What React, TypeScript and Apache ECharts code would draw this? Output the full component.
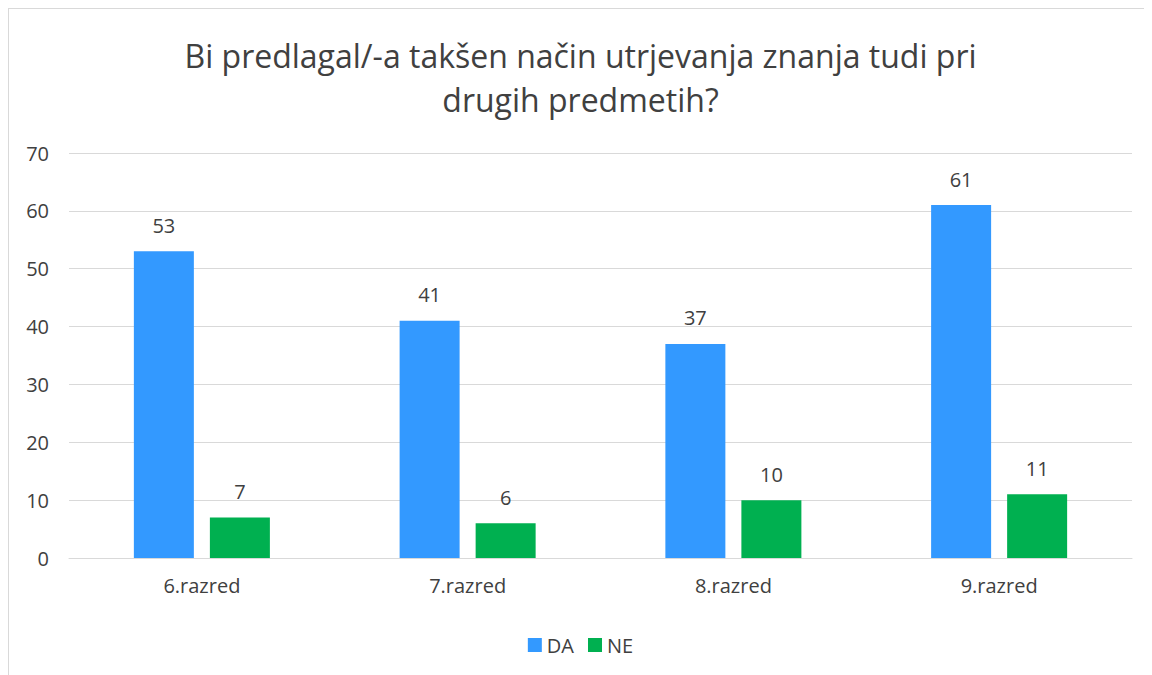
import React, { useEffect, useRef } from "react";
import * as echarts from "echarts";

const titleText = "Bi predlagal/-a takšen način utrjevanja znanja tudi pri\ndrugih predmetih?";
const categories = ["6.razred", "7.razred", "8.razred", "9.razred"];
const daValues = [53, 41, 37, 61];
const neValues = [7, 6, 10, 11];
const seriesNames = ["DA", "NE"];

const FONT = "'Open Sans', sans-serif";

export default function App() {
  const ref = useRef<HTMLDivElement>(null);
  useEffect(() => {
    if (!ref.current) return;
    const chart = echarts.init(ref.current, undefined, { renderer: "svg" });
    const labelStyle = {
      show: true,
      position: "top" as const,
      distance: 16,
      color: "#404040",
      fontSize: 20,
      fontFamily: FONT,
    };
    chart.setOption({
      animation: false,
      backgroundColor: "#ffffff",
      title: {
        text: titleText,
        left: "center",
        top: 19,
        textStyle: {
          color: "#404040",
          fontSize: 32,
          fontWeight: "normal",
          fontFamily: FONT,
          lineHeight: 44,
        },
      },
      legend: {
        data: seriesNames,
        left: "center",
        top: 621,
        itemWidth: 14,
        itemHeight: 14,
        itemGap: 14,
        icon: "rect",
        textStyle: { color: "#404040", fontSize: 20, fontFamily: FONT },
      },
      grid: { left: 60, right: 20, top: 144, bottom: 117, containLabel: false },
      xAxis: {
        type: "category",
        data: categories,
        axisLine: { show: true, lineStyle: { color: "#d9d9d9" } },
        axisTick: { show: false },
        axisLabel: { color: "#404040", fontSize: 20, fontFamily: FONT, margin: 17 },
      },
      yAxis: {
        type: "value",
        min: 0,
        max: 70,
        interval: 10,
        axisLine: { show: false },
        axisTick: { show: false },
        splitLine: { lineStyle: { color: "#d9d9d9" } },
        axisLabel: { color: "#404040", fontSize: 20, fontFamily: FONT, margin: 20 },
      },
      series: [
        {
          name: seriesNames[0],
          type: "bar",
          data: daValues,
          barWidth: 60,
          barGap: "26.7%",
          itemStyle: { color: "#3399ff" },
          label: labelStyle,
        },
        {
          name: seriesNames[1],
          type: "bar",
          data: neValues,
          barWidth: 60,
          itemStyle: { color: "#00b050" },
          label: labelStyle,
        },
      ],
    });
    return () => chart.dispose();
  }, []);
  return (
    <div
      style={{
        width: 1143,
        height: 666,
        borderTop: "1px solid #d9d9d9",
        borderLeft: "1px solid #d9d9d9",
      }}
    >
      <div ref={ref} style={{ width: 1143, height: 666 }} />
    </div>
  );
}
